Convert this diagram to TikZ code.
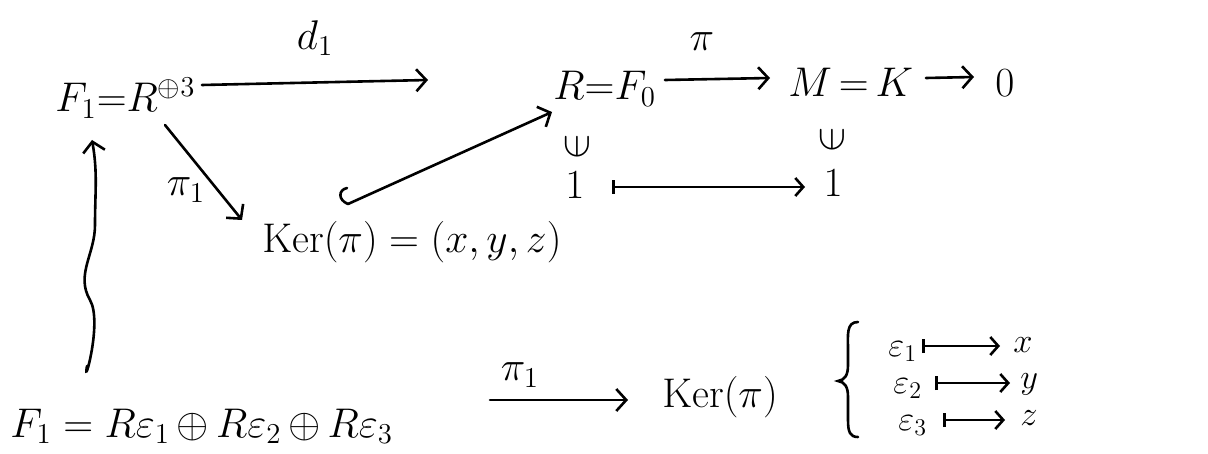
\documentclass[tikz,border=0pt]{standalone}
\usepackage{amsmath,amssymb}
\usetikzlibrary{arrows.meta}
\begin{document}
\begin{tikzpicture}[x=0.5pt,y=-0.5pt,
  txt/.style={inner sep=0pt,font=\fontsize{22}{26}\selectfont},
  sml/.style={inner sep=0pt,font=\fontsize{17}{20}\selectfont},
  ln/.style={line width=1.3pt,line cap=round},
  arr/.style={ln,-{Straight Barb[length=5pt,width=11pt,line width=1.3pt]}},
  marr/.style={ln,{Bar[width=7pt,line width=1.3pt]}-{Straight Barb[length=4pt,width=9pt,line width=1.3pt]}},
]
\useasboundingbox (0,0) rectangle (1208,454);
% top row
\node[txt,anchor=base west] (F1top) at (55,112) {$F_1 {=} R^{\oplus 3}$};
\node[txt] (d1) at (315,38) {$d_1$};
\node[txt,anchor=base west] (R0) at (553,100) {$R{=}F_0$};
\node[txt] (pilab) at (702,42) {$\pi$};
\node[txt,anchor=base west] (MK) at (788,97) {$M\,{=}\,K$};
\node[txt,anchor=base west] (zero) at (995,97) {$0$};
% elements
\node[txt,rotate=90] (in1) at (577,147) {$\in$};
\node[txt] (one1) at (575,185) {$1$};
\node[txt,rotate=90] (in2) at (832,140) {$\in$};
\node[txt] (one2) at (833,183) {$1$};
% kernel
\node[txt,anchor=base west] (Ker) at (262,252) {$\mathrm{Ker}(\pi) = (x,y,z)$};
\node[txt] (pi1lab) at (186,190) {$\pi_1$};
% bottom row
\node[txt,anchor=base west] (F1bot) at (10,437) {$F_1 = R\varepsilon_1\,{\oplus}\,R\varepsilon_2\,{\oplus}\,R\varepsilon_3$};
\node[txt] (pi1b) at (520,375) {$\pi_1$};
\node[txt,anchor=base west] (Kerb) at (662,407) {$\mathrm{Ker}(\pi)$};
% assignments
\node[sml,anchor=base west] (e1) at (888,356) {$\varepsilon_1$};
\node[sml,anchor=base west] (xx) at (1013,352) {$x$};
\node[sml,anchor=base west] (e2) at (893,393) {$\varepsilon_2$};
\node[sml,anchor=base west] (yy) at (1020,388) {$y$};
\node[sml,anchor=base west] (e3) at (898,430) {$\varepsilon_3$};
\node[sml,anchor=base west] (zz) at (1020,425) {$z$};
% coordinates
\coordinate (a1) at (202,85); \coordinate (b1) at (428,80);
\coordinate (a2) at (665,80); \coordinate (b2) at (770,78);
\coordinate (a3) at (926,78); \coordinate (b3) at (974,77);
\coordinate (a4) at (612,187); \coordinate (b4) at (805,187);
\coordinate (a5) at (165,125); \coordinate (b5) at (242,220);
\coordinate (a6) at (348,204); \coordinate (b6) at (552,112);
\coordinate (a8) at (490,400); \coordinate (b8) at (628,400);
\coordinate (ae1) at (922,346); \coordinate (be1) at (1000,346);
\coordinate (ae2) at (935,383); \coordinate (be2) at (1010,383);
\coordinate (ae3) at (943,420); \coordinate (be3) at (1005,420);
\coordinate (w0) at (87,366); \coordinate (w1) at (90,300);
\coordinate (w2) at (95,225); \coordinate (w3) at (92,140);
% arrows
\draw[arr] (a1) -- (b1);
\draw[arr] (a2) -- (b2);
\draw[arr] (a3) -- (b3);
\draw[marr] (a4) -- (b4);
\draw[arr] (a5) -- (b5);
\draw[ln] (a6) .. controls (338,200) and (338,190) .. (347,188);
\draw[arr] (a6) -- (b6);
\draw[arr] (a8) -- (b8);
\draw[marr] (ae1) -- (be1);
\draw[marr] (ae2) -- (be2);
\draw[marr] (ae3) -- (be3);
\draw[arr] (w0) to[out=-100,in=-60] (w1) to[out=120,in=-90] (w2) to[out=90,in=-80] (w3);
% brace
\draw[ln] (858,322) .. controls (846,322) and (848,335) .. (848,350)
  -- (848,365) .. controls (848,375) and (845,380) .. (838,381)
  .. controls (845,382) and (848,387) .. (848,397) -- (848,420)
  .. controls (848,432) and (850,437) .. (858,437);
\end{tikzpicture}
\end{document}
